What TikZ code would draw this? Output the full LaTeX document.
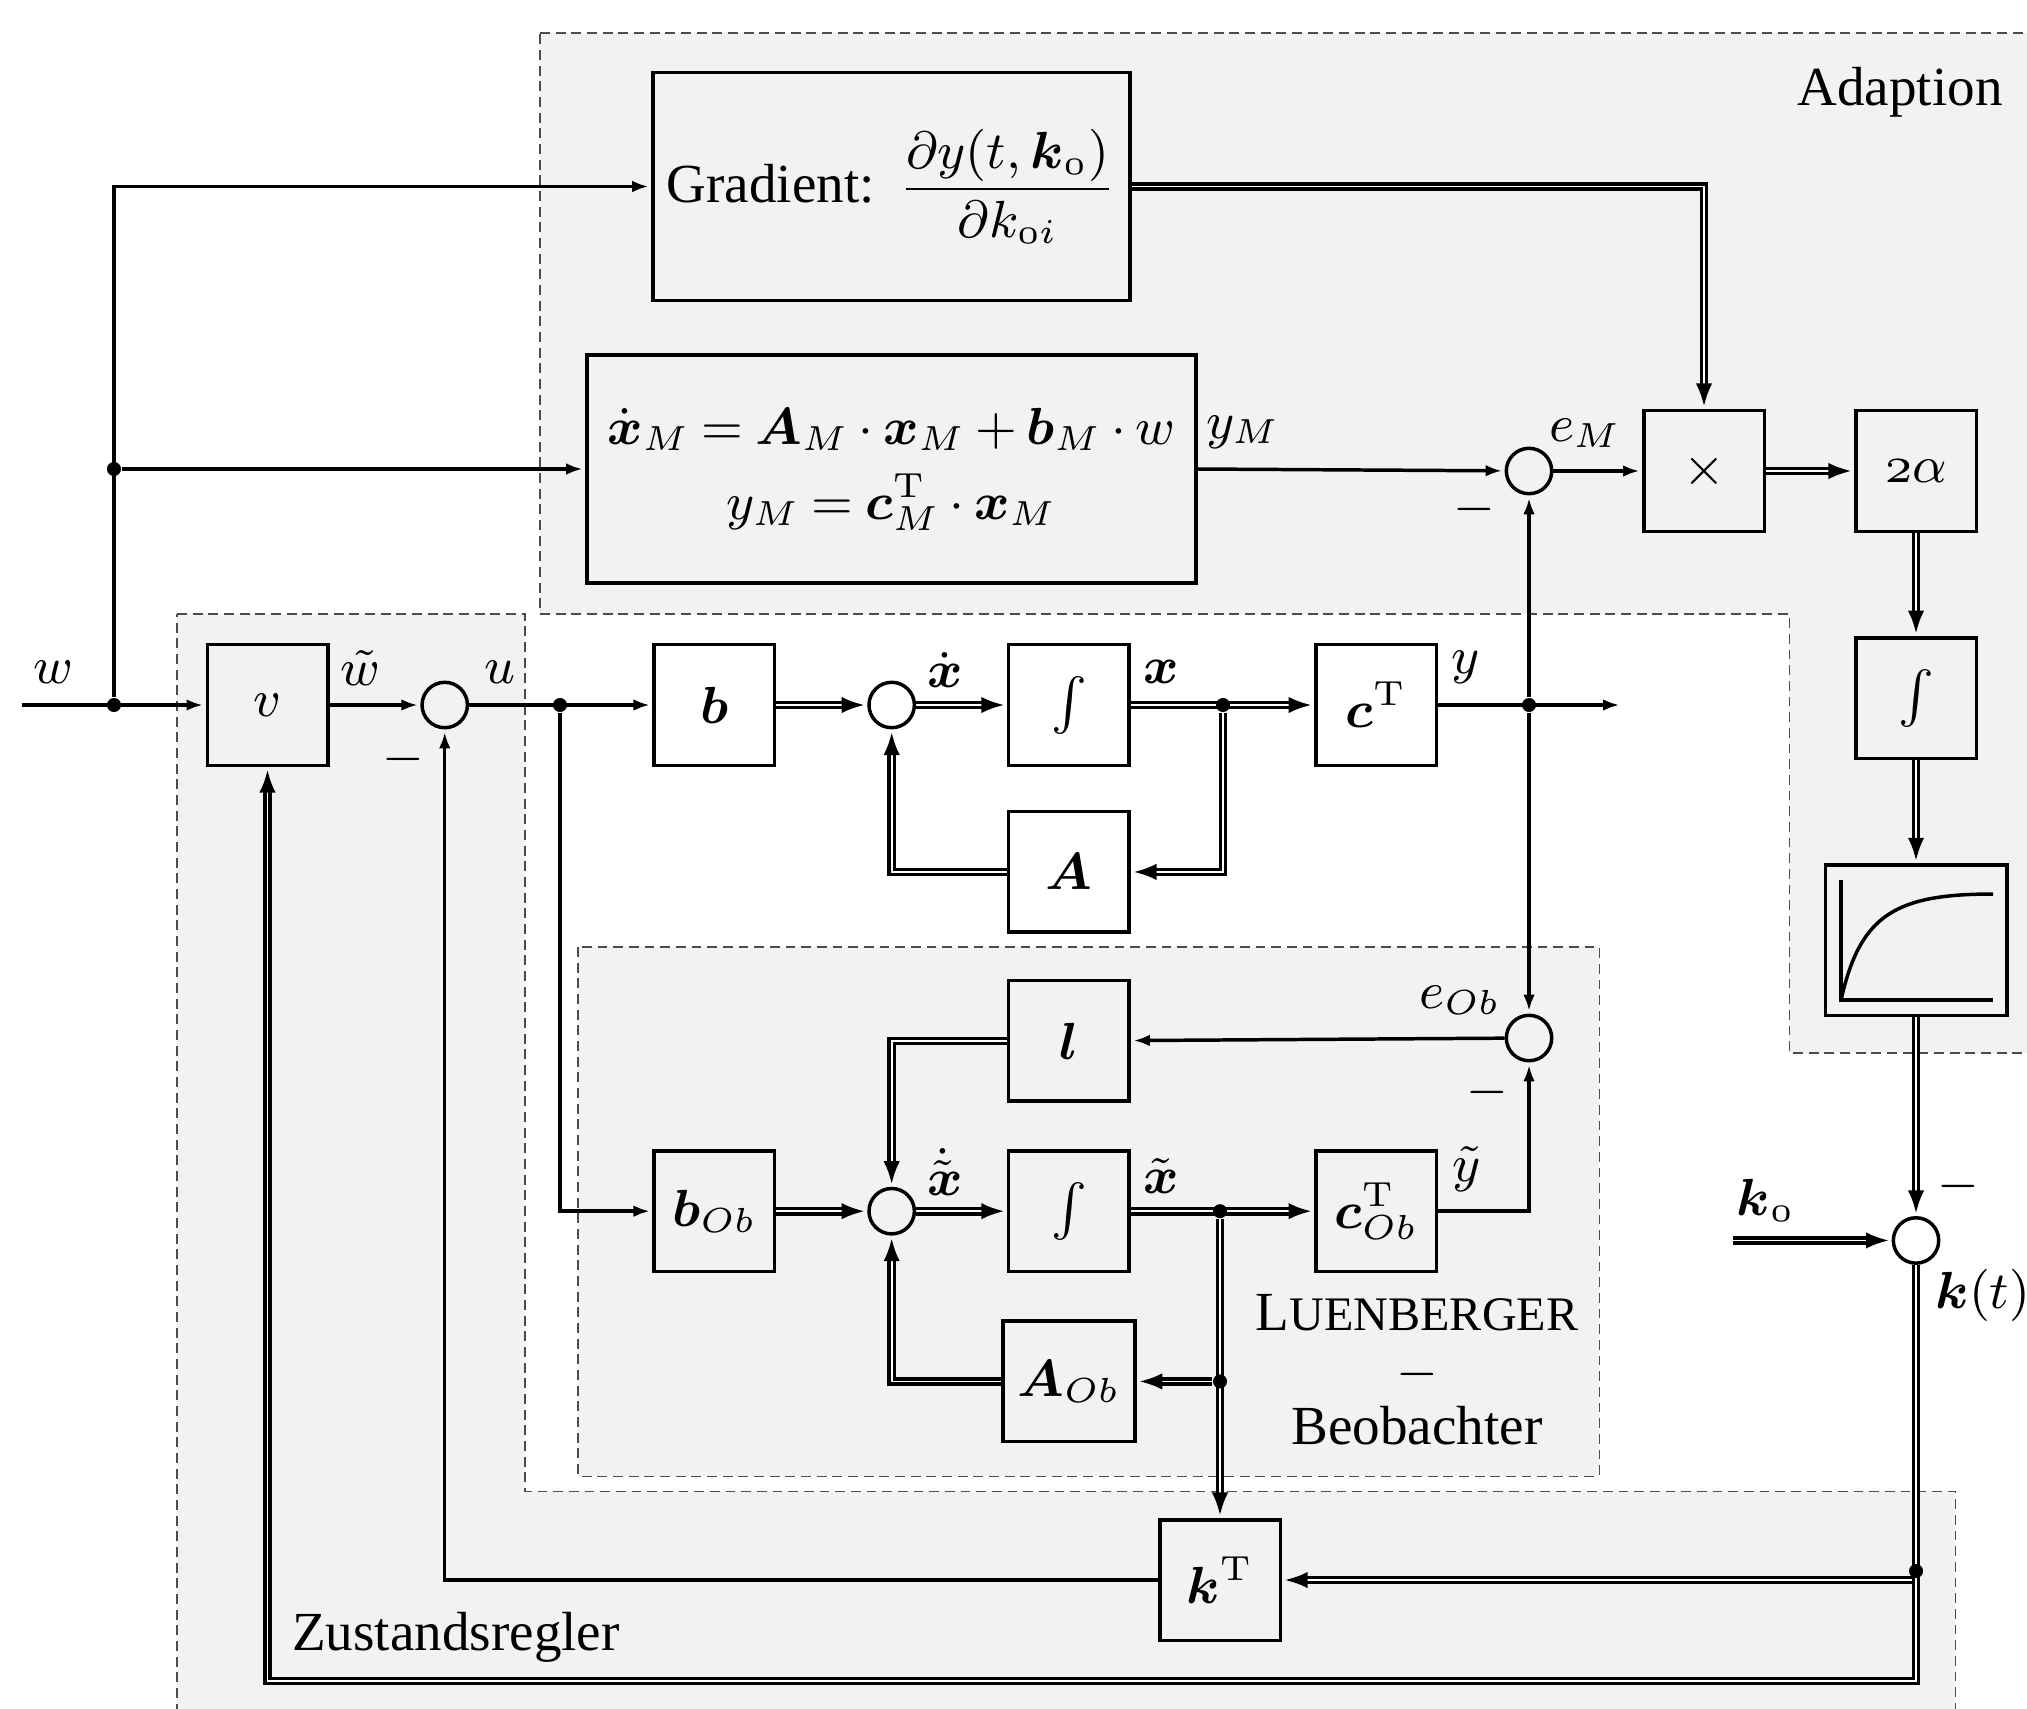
\documentclass[tikz,border=0pt]{standalone}
\usepackage{amsmath}
\usepackage{amssymb}
\usepackage[no-math]{fontspec}
\setmainfont{Liberation Serif}
\usepackage{tikz}
\usetikzlibrary{arrows.meta, positioning, backgrounds}
\newcommand{\vect}[1]{\boldsymbol{#1}}
\newcommand{\oz}{{\mathgroup\symletters 0}}
\newcommand{\ot}{{\mathgroup\symletters 2}}
\newcommand{\titlefont}{\fontsize{9.5}{9.8}\selectfont}

\begin{document}
\begin{tikzpicture}[
        x=0.00606cm, y=-0.00606cm,
        node distance=2.8mm and 5.5mm,
        every node/.style={font=\small},
        region/.style={draw=black!70, fill=black!5, line width=0.18pt, dash pattern=on 1.7pt off 1pt},
        block/.style={rectangle, draw, line width=0.6pt, align=center, inner sep=0pt, minimum size=7.3mm},
        wideblock/.style={block, minimum height=13.8mm},
        sumnode/.style={circle, draw, line width=0.6pt, inner sep=0pt, minimum size=2.75mm},
        dotnode/.style={circle, fill=black, inner sep=0pt, minimum size=0.85mm},
        lbl/.style={inner sep=0pt},
        arrow/.style={line width=0.6pt, -{Latex[length=1mm,width=0.7mm]}, shorten >=0.15mm},
        dbarrow/.style={line width=0.6pt, double, double distance=0.3pt, -{Latex[length=1.4mm,width=1mm]}, shorten >=0.15mm}
    ]
    \useasboundingbox (0,0) rectangle (2027,1708);

    % Shaded groups
    \begin{pgfonlayer}{background}
    \draw [region] (540,33) -- (2040,33) -- (2040,1053) -- (1789,1053) -- (1789,614) -- (540,614) -- cycle;
    \draw [region] (177,614) -- (525,614) -- (525,1491) -- (1955,1491) -- (1955,1720) -- (177,1720) -- cycle;
    \draw [region] (578,947) rectangle (1599,1476);
    \end{pgfonlayer}

    % Reference model and gradient
    \node [wideblock, minimum width=28.9mm] (grad) at (891.5,186.5) {{\titlefont Gradient:}\hspace{4.2pt}$\dfrac{\partial y(t,\vect{k}_{\oz})}{\partial k_{\oz i}}$};
    \node [wideblock, minimum width=36.9mm] (model) at (891.5,469) {\medmuskip=3.2mu \thickmuskip=4mu $\dot{\vect{x}}_M = \vect{A}_M \cdot \vect{x}_M + \vect{b}_M \cdot w$\\[2pt] \medmuskip=3.2mu \thickmuskip=4mu $y_M = \vect{c}_M^{\mathrm{T}} \cdot \vect{x}_M$};

    % Plant row
    \node [block] (v) at (267.5,705) {$v$};
    \node [sumnode, right=of v] (sum1) {};
    \node [block, right=11.1mm of sum1] (b) {$\vect{b}$};
    \node [sumnode, right=of b] (sum2) {};
    \node [block, right=of sum2] (int) {$\int$};
    \node [block, right=11.1mm of int] (c) {$\vect{c}^{\mathrm{T}}$};
    \node [block, below=2.6mm of int] (A) {$\vect{A}$};

    % Observer
    \node [block, below=23.15mm of b] (bOb) {$\vect{b}_{Ob}$};
    \node [sumnode, right=of bOb] (sum3) {};
    \node [block, right=of sum3] (int3) {$\int$};
    \node [block, right=11.1mm of int3] (cOb) {$\vect{c}_{Ob}^{\mathrm{T}}$};
    \node [block, above=of int3] (l) {$\vect{l}$};
    \node [block, below=of int3, minimum width=8mm] (AOb) {$\vect{A}_{Ob}$};
    \node [sumnode] (sumOb) at (1529,1038) {};

    % Adaption chain
    \node [sumnode] (sumM) at (1529,471) {};
    \node [block] (mult) at (1704,471) {$\times$};
    \node [block] (alpha) at (1916,471) {$\ot\alpha$};
    \node [block, below=6.25mm of alpha] (int2) {$\int$};
    \node [block, below=6.25mm of int2, minimum width=11mm, minimum height=9.1mm] (sat) {};
    \node [sumnode, below=12.05mm of sat] (sumk) {};

    % State feedback
    \node [block] (kT) at (1220,1580) {$\vect{k}^{\mathrm{T}}$};

    % Junctions and free ends
    \node [dotnode] (jw) at (114,705) {};
    \node [dotnode] (jM) at (114,469) {};
    \node [dotnode] (ju) at (560,705) {};
    \node [dotnode] (jx) at (1223,705) {};
    \node [dotnode] (jy) at (sumM |- c) {};
    \node [dotnode] (jxo) at (kT |- int3) {};
    \node [dotnode] (jA) at (kT |- AOb) {};
    \node [dotnode] (jk) at (1916,1571) {};
    \coordinate (in) at (22,705);
    \coordinate (out) at (1622,705);
    \coordinate [left=9.6mm of sumk.west] (k0in);
    \coordinate (fb) at (267.5,1681);

    % Saturation curve
    \draw [line width=0.6pt] (1841,880) -- (1841,1000) -- (1993,1000);
    \draw [line width=0.6pt] (1841,1000) .. controls (1860,915) and (1895,894) .. (1993,894);

    % Signal labels
    \node [lbl] (lw) at (53,672) {$w$};
    \node [lbl] (lwt) at (360,668) {$\tilde{w}$};
    \node [lbl] (lu) at (500,672) {$u$};
    \node [lbl] (lm1) at (403,759) {$-$};
    \node [lbl] (lxd) at (945,670) {$\dot{\vect{x}}$};
    \node [lbl] (lx) at (1161,672) {$\vect{x}$};
    \node [lbl] (ly) at (1466,667) {$y$};
    \node [lbl] (lyM) at (1243,432) {$y_M$};
    \node [lbl] (leM) at (1585,433) {$e_M$};
    \node [lbl] (lm2) at (1474,509) {$-$};
    \node [lbl] (leOb) at (1460,1000) {$e_{Ob}$};
    \node [lbl] (lm3) at (1487,1092) {$-$};
    \node [lbl] (lxtd) at (945,1172) {$\dot{\tilde{\vect{x}}}$};
    \node [lbl] (lxt) at (1161,1176) {$\tilde{\vect{x}}$};
    \node [lbl] (lyt) at (1467,1169) {$\tilde{y}$};
    \node [lbl] (lk0) at (1766,1200) {$\vect{k}_{\oz}$};
    \node [lbl] (lm4) at (1958,1186) {$-$};
    \node [lbl] (lkt) at (1983,1295) {$\vect{k}(t)$};

    % Group titles
    \node [lbl, font=\titlefont] (tad) at (1900,92) {Adaption};
    \node [lbl, font=\titlefont] (tzu) at (456,1637) {Zustandsregler};
    \node [lbl, align=center, font=\titlefont] (tlu) at (1417,1370) {L{\fontsize{8.3}{9.8}\selectfont UENBERGER}\\$-$\\Beobachter};

    % Connecting Lines
    \begin{pgfonlayer}{background}
    \draw [arrow] (in) -- (v);
    \draw [arrow] (jw) |- (grad.west);
    \draw [arrow] (jM) -- (model.west);
    \draw [arrow] (v) -- (sum1);
    \draw [arrow] (sum1) -- (b);
    \draw [arrow] (ju) |- (bOb.west);

    \draw [dbarrow] (b) -- (sum2);
    \draw [dbarrow] (sum2) -- (int);
    \draw [dbarrow] (int) -- (c);
    \draw [dbarrow] (jx) |- (A.east);
    \draw [dbarrow] (A.west) -| (sum2.south);
    \draw [arrow] (c) -- (out);

    \draw [arrow] (model.east) -- (sumM);
    \draw [arrow] (sumM) -- (mult);
    \draw [arrow] (jy) -- (sumM);
    \draw [arrow] (jy) -- (sumOb);
    \draw [dbarrow] (grad.east) -| (mult.north);
    \draw [dbarrow] (mult) -- (alpha);
    \draw [dbarrow] (alpha) -- (int2);
    \draw [dbarrow] (int2) -- (sat);
    \draw [dbarrow] (sat) -- (sumk);
    \draw [dbarrow] (k0in) -- (sumk);

    \draw [dbarrow] (bOb) -- (sum3);
    \draw [dbarrow] (sum3) -- (int3);
    \draw [dbarrow] (int3) -- (cOb);
    \draw [dbarrow] (l.west) -| (sum3.north);
    \draw [dbarrow] (AOb.west) -| (sum3.south);
    \draw [dbarrow] (jA) -- (AOb.east);
    \draw [dbarrow] (jxo) -- (kT.north);
    \draw [arrow] (cOb.east) -| (sumOb.south);
    \draw [arrow] (sumOb) -- (l);

    \draw [dbarrow] (jk) |- (kT.east);
    \draw [arrow] (kT.west) -| (sum1.south);
    \draw [dbarrow] (sumk.south) |- (fb) -- (v.south);
    \end{pgfonlayer}

    \end{tikzpicture}
\end{document}
